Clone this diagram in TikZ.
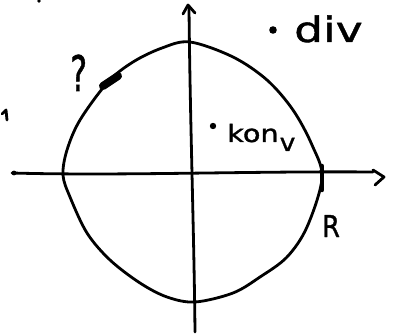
\documentclass[tikz,border=0pt]{standalone}
\usepackage{fontspec}
\setmainfont{DejaVu Sans}
\newfontfamily\handf{DejaVu Sans}[FakeBold=1.2]
\begin{document}
\begin{tikzpicture}[x=1pt,y=-1pt,
  pen/.style={line width=2.8pt, line cap=round, line join=round, black},
  hand/.style={inner sep=0pt, anchor=base west, font=\handf}]
\useasboundingbox (0,0) rectangle (398,336);
% stray marks at the edges
\fill (39,1) circle (1.8);
\draw[pen] (2,114) -- (6,110) -- (7,120);
% horizontal axis
\coordinate (hl) at (12,173);
\coordinate (hr) at (373,172);
\draw[pen] (hl) .. controls (120,176) and (250,171) .. (hr);
\fill (14,173) circle (2.4);
\draw[pen] (373,170) -- (384,177) -- (375,185);
% vertical axis
\coordinate (vt) at (189,7);
\coordinate (vb) at (195,332);
\draw[pen] (vt) .. controls (190,120) and (194,230) .. (vb);
\draw[pen] (183,14) -- (188,5) -- (195,13);
% closed curve
\draw[pen] plot[smooth cycle, tension=0.55] coordinates {
 (190,42) (233,57) (267,80) (293,110) (312,145) (322,178)
 (307,227) (287,257) (260,277) (233,293) (195,302)
 (167,297) (140,283) (110,260) (87,233) (70,197) (63,175)
 (67,150) (80,120) (108,82) (133,62) (162,48)};
% blob on curve
\draw[line width=8pt, line cap=round] (103,86) -- (118,76);
% tick at R
\draw[line width=4.5pt, line cap=round] (322,166) -- (322,190);
% labels
\fill (273,30) circle (3.8);
\node[hand] (div) at (294,42) {\fontsize{35}{35}\selectfont\scalebox{1.3}[1]{div}};
\fill (213,126) circle (3.2);
\node[hand] (konv) at (227,142) {\fontsize{24}{24}\selectfont\scalebox{1.2}[1]{kon}\hspace{1pt}\raisebox{-9pt}{\scalebox{1.1}[1]{v}}};
\node[hand] (R) at (322,237) {\fontsize{30}{30}\selectfont\scalebox{0.85}[1]{R}};
\node[hand] (q) at (70,91) {\fontsize{49}{49}\selectfont\scalebox{0.65}[1]{?}};
\end{tikzpicture}
\end{document}
